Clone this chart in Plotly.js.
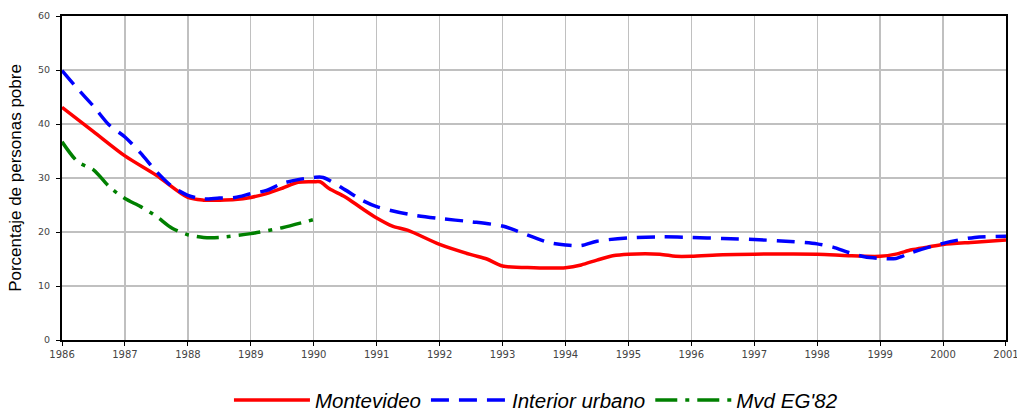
<!DOCTYPE html>
<html>
<head>
<meta charset="utf-8">
<script src="https://cdn.plot.ly/plotly-3.0.1.min.js"></script>
<style>html,body{margin:0;padding:0;background:#fff;}#chart{width:1017px;height:415px;}</style>
</head>
<body>
<div id="chart"></div>
<script>
// Montevideo
const mvdX = [1986, 1986.5, 1987, 1987.5, 1988, 1988.25, 1988.5, 1988.75, 1989, 1989.25, 1989.5, 1989.75, 1990, 1990.1, 1990.25, 1990.5, 1990.75, 1991, 1991.25, 1991.5, 1992, 1992.5, 1992.75, 1993, 1993.5, 1994, 1994.25, 1994.5, 1994.75, 1995, 1995.5, 1995.75, 1996, 1996.5, 1997, 1998, 1998.5, 1999, 1999.25, 1999.5, 1999.75, 2000, 2000.5, 2001];
const mvdY = [43.1, 38.6, 34.1, 30.5, 26.4, 25.9, 25.9, 26.0, 26.4, 27.1, 28.1, 29.2, 29.3, 29.3, 28.0, 26.5, 24.5, 22.6, 21.1, 20.3, 17.7, 15.8, 15.0, 13.7, 13.4, 13.4, 13.9, 14.8, 15.6, 15.9, 15.9, 15.5, 15.5, 15.8, 15.9, 15.9, 15.6, 15.5, 15.9, 16.7, 17.2, 17.7, 18.1, 18.5];
// Interior urbano
const intX = [1986, 1986.25, 1986.5, 1986.75, 1987, 1987.25, 1987.5, 1987.75, 1988, 1988.25, 1988.5, 1988.75, 1989, 1989.25, 1989.5, 1989.75, 1990, 1990.15, 1990.5, 1990.75, 1991, 1991.5, 1992, 1992.5, 1993, 1993.25, 1993.5, 1993.75, 1994, 1994.25, 1994.5, 1995, 1995.5, 1996, 1996.5, 1997, 1997.5, 1998, 1998.25, 1998.5, 1998.75, 1999, 1999.25, 1999.5, 2000, 2000.5, 2001];
const intY = [49.9, 46.5, 43.3, 39.8, 37.6, 34.6, 31.2, 28.4, 26.8, 26.1, 26.3, 26.4, 27.1, 27.7, 29.0, 29.7, 30.1, 30.1, 27.8, 26.0, 24.7, 23.3, 22.5, 21.9, 21.1, 20.1, 19.0, 18.0, 17.6, 17.5, 18.3, 18.9, 19.1, 19.0, 18.8, 18.6, 18.3, 17.8, 17.2, 16.2, 15.4, 15.1, 15.1, 16.2, 17.9, 19.0, 19.2];
// Mvd EG'82
const egX = [1986, 1986.25, 1986.5, 1986.75, 1987, 1987.25, 1987.5, 1987.75, 1988, 1988.25, 1988.5, 1989, 1989.5, 1990];
const egY = [36.7, 33.0, 31.5, 28.4, 26.2, 24.7, 22.9, 20.7, 19.5, 19.0, 19.0, 19.7, 20.8, 22.3];

const seriesNames = ['Montevideo', 'Interior urbano', "Mvd EG'82"];
const yTitle = 'Porcentaje de personas pobre';

const traces = [
  {x: mvdX, y: mvdY, name: seriesNames[0], mode: 'lines', line: {color: '#ff0000', width: 3.5, shape: 'spline', smoothing: 0.8}},
  {x: intX, y: intY, name: seriesNames[1], mode: 'lines', line: {color: '#0000ff', width: 3.5, dash: '18px,10px', shape: 'spline', smoothing: 0.8}},
  {x: egX, y: egY, name: seriesNames[2], mode: 'lines', line: {color: '#008000', width: 3.5, dash: '22px,8px,4px,8px', shape: 'spline', smoothing: 0.8}}
];

const layout = {
  width: 1017, height: 415,
  margin: {l: 62, r: 11, t: 16, b: 75},
  paper_bgcolor: '#fff', plot_bgcolor: '#fff',
  showlegend: true,
  legend: {orientation: 'h', xref: 'container', yref: 'container', x: 0.527, xanchor: 'center', y: 0.036, yanchor: 'middle',
           itemwidth: 76, font: {family: 'Liberation Sans, Arial, sans-serif', size: 20.5, color: '#000', style: 'italic'}, tracegroupgap: 0},
  xaxis: {range: [1985.9999, 2001.0001], dtick: 1, tick0: 1986, showgrid: true, gridcolor: '#c0c0c0', gridwidth: 1.3,
          showline: true, linecolor: '#000', linewidth: 2, mirror: true, ticks: 'outside', ticklen: 4, tickcolor: '#000', tickwidth: 1,
          ticklabeloverflow: 'allow',
          tickfont: {family: 'DejaVu Sans, Verdana, sans-serif', size: 10, color: '#444'}, zeroline: false, automargin: false, fixedrange: true},
  yaxis: {range: [0, 60], dtick: 10, showgrid: true, gridcolor: '#c0c0c0', gridwidth: 1.3,
          showline: true, linecolor: '#000', linewidth: 2, mirror: true, ticks: 'outside', ticklen: 4, tickcolor: '#000', tickwidth: 1,
          tickfont: {family: 'DejaVu Sans, Verdana, sans-serif', size: 9.5, color: '#444'}, ticklabelstandoff: 4, zeroline: false, automargin: false,
          title: {text: yTitle, font: {family: 'Liberation Sans, Arial, sans-serif', size: 17, color: '#000'}, standoff: 12}, fixedrange: true}
};

Plotly.newPlot('chart', traces, layout, {displayModeBar: false, staticPlot: true});
</script>
</body>
</html>
